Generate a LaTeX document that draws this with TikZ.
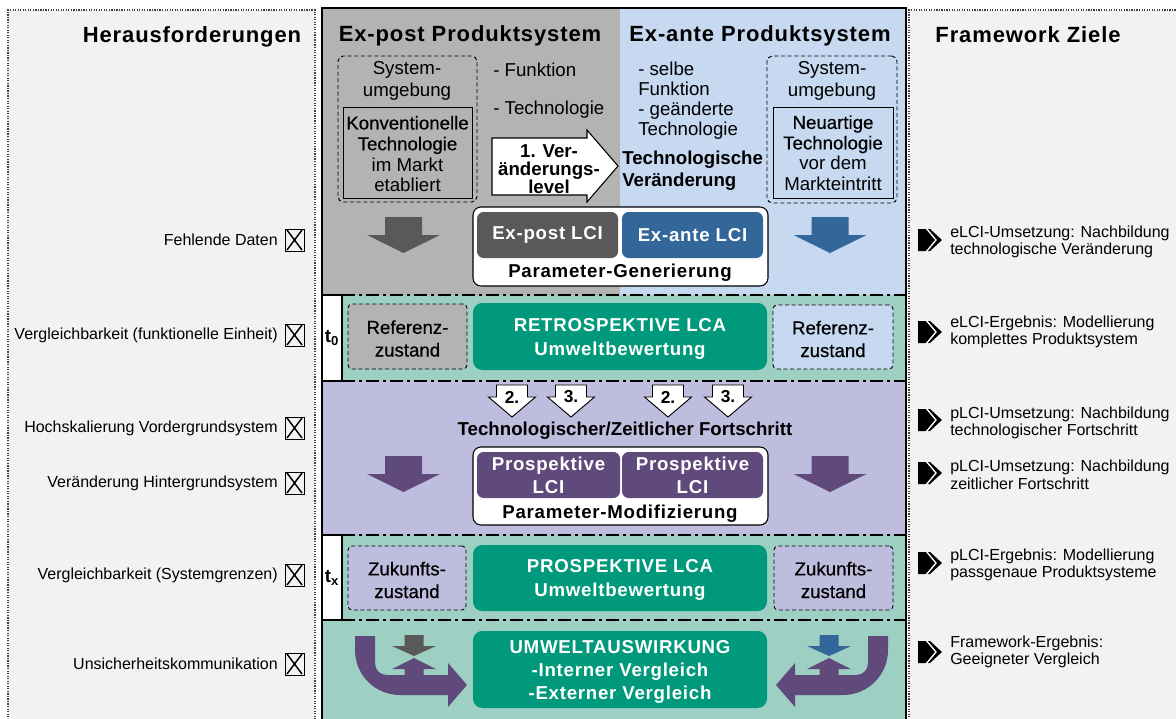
\documentclass[tikz,border=0pt]{standalone}
\usepackage{fontspec}
\setmainfont{Liberation Sans}
\newfontfamily\hdfont[LetterSpace=4]{Liberation Sans}
\newfontfamily\spfont[LetterSpace=4]{Liberation Sans}
\newfontfamily\fbfont[FakeBold=0.5]{Liberation Sans}
\usetikzlibrary{fit}

\definecolor{panelgrey}{HTML}{F2F2F2}
\definecolor{expostgrey}{HTML}{B3B3B3}
\definecolor{exanteblue}{HTML}{C6D9F1}
\definecolor{teallight}{HTML}{9ECFC3}
\definecolor{purplelight}{HTML}{BFBDDE}
\definecolor{tealbox}{HTML}{00997B}
\definecolor{darkgrey}{HTML}{595959}
\definecolor{bluebox}{HTML}{336699}
\definecolor{purplebox}{HTML}{604A7B}

% font size with explicit line distance
\newcommand\fs[2]{\fontsize{#1}{#2}\selectfont}

\tikzset{
  frame/.style={draw=black!75, densely dotted, line width=0.9pt},
  heading/.style={font=\hdfont\bfseries\fs{16.5}{18}, inner sep=0pt, anchor=base},
  lbl/.style={font=\fs{12}{13.2}, anchor=east, inner sep=0pt},
  goal/.style={font=\fs{12}{13.2}, anchor=west, align=left, inner sep=0pt},
  sepline/.style={line width=1.4pt, dash pattern=on 10pt off 3pt on 2pt off 3pt},
  tbox/.style={draw, fill=white, line width=0.8pt, inner sep=0pt},
  envbox/.style={draw, densely dashed, rounded corners=4pt, line width=0.7pt, inner sep=0pt},
  techbox/.style={draw, line width=0.7pt, inner sep=0pt},
  statebox/.style={draw, densely dashed, rounded corners=3pt, line width=0.7pt, inner sep=0pt},
  statetext/.style={font=\fbfont\fs{14}{17}, align=center, inner sep=0pt, yshift=-1.5pt},
  lcabox/.style={fill=tealbox, rounded corners=7pt, inner sep=0pt},
  lcibox/.style={rounded corners=5pt, inner sep=0pt},
  whitebold/.style={text=white, font=\spfont\bfseries\fs{14}{#1}, align=center, inner sep=0pt},
  parbox/.style={draw, fill=white, rounded corners=6pt, line width=0.8pt, inner sep=0pt},
  bigdown/.pic={\fill[#1] (-18.5,0) -- (18.5,0) -- (18.5,18) -- (36.5,18) -- (0,36)
     -- (-36.5,18) -- (-18.5,18) -- cycle;},
  smalldown/.pic={\draw[fill=white, line width=0.7pt] (-15.5,0) -- (15.5,0) -- (15.5,12)
     -- (23.5,12) -- (0,32) -- (-23.5,12) -- (-15.5,12) -- cycle;},
  bend/.pic={
     \fill[purplebox] (355,636) -- (355,650) .. controls (355,675) and (375,695) .. (400,695)
       -- (448,695) -- (448,707) -- (467,685) -- (448,663) -- (448,675) -- (423.5,675)
       -- (423.5,669) -- (436,669) -- (414,658) -- (392,669) -- (404.5,669) -- (404.5,675)
       -- (387,675) .. controls (380,675) and (375,670) .. (375,663) -- (375,636) -- cycle;
     \fill[#1] (404.5,635) -- (423.5,635) -- (423.5,646) -- (436,646) -- (414,656)
       -- (392,646) -- (404.5,646) -- cycle;},
  xmark/.pic={\draw[line width=0.7pt] (-9.5,-11) rectangle (9.5,11);
     \draw[line width=1.1pt] (-7.5,-10) -- (7.5,10) (7.5,-10) -- (-7.5,10);},
  chev/.pic={\fill[black] (-12,-11) -- (0,-11) -- (12,0) -- (0,11) -- (-12,11) -- cycle;
     \draw[white, line width=1pt] (-4,-12) -- (6,0) -- (-4,12);}
}

\begin{document}
\begin{tikzpicture}[x=0.75pt, y=-0.75pt]
\useasboundingbox (0,0) rectangle (1176,718);

% side panels
\fill[panelgrey] (8,10) rectangle (315,730);
\draw[frame] (8,730) -- (8,10) -- (315,10) -- (315,730);
\fill[panelgrey] (909,10) rectangle (1180,730);
\draw[frame] (909,730) -- (909,10) -- (1180,10);

% central bands
\fill[expostgrey] (322,8) rectangle (620,295);
\fill[exanteblue] (620,8) rectangle (906,295);
\fill[teallight] (322,295) rectangle (906,381);
\fill[purplelight] (322,381) rectangle (906,535);
\fill[teallight] (322,535) rectangle (906,730);
\foreach \yy in {295,381,535,620} \draw[sepline] (342,\yy) -- (906,\yy);
\draw[line width=1.2pt] (322,730) -- (322,8) -- (906,8) -- (906,730);

% headings
\node[heading] (hLeft) at (192,42) {Herausforderungen};
\node[heading] (hPost) at (470,41) {Ex-post Produktsystem};
\node[heading] (hAnte) at (760,41) {Ex-ante Produktsystem};
\node[heading] (hGoal) at (1028,42) {Framework Ziele};

% ex-post product system
\node[envbox, fit={(338,56) (477,202)}] (envL) {};
\node[font=\fs{14}{16.5}, align=center] (envLt) at (407,81) {System-\\umgebung};
\node[techbox, fit={(343,107) (472,198)}] (techL) {};
\node[font=\fs{14}{15.6}, align=center] (techLt) at (407.5,154)
  {{\fbfont Konventionelle}\\{\fbfont Technologie}\\im Markt\\etabliert};
\node[font=\fs{14}{16}, anchor=west, inner sep=0pt] (fkt) at (493,70) {- Funktion};
\node[font=\fs{14}{16}, anchor=west, inner sep=0pt] (tec) at (493,110) {- Technologie};

\draw[fill=white, line width=0.8pt] (492,138) -- (587,138) -- (587,130) -- (618,166)
  -- (587,202) -- (587,195) -- (492,195) -- cycle;
\node[font={\bfseries\fs{14}{13.5}\lineskiplimit=-6pt}, align=center] (lvl1) at (549,169)
  {1. Ver-\\änderungs-\\level};

% ex-ante product system
\node[font=\fs{14}{15}, align=left, anchor=west, inner sep=0pt] (chg) at (638,101)
  {- selbe\\Funktion\\- geänderte\\Technologie};
\node[font=\bfseries\fs{14}{16.5}, align=left, anchor=west, inner sep=0pt] (tvc) at (622,171)
  {Technologische\\Veränderung};
\node[envbox, fit={(767,56) (897,203)}] (envR) {};
\node[font=\fs{14}{16.5}, align=center] (envRt) at (832,81) {System-\\umgebung};
\node[techbox, fit={(773,107) (893,198)}] (techR) {};
\node[font=\fs{14}{15.4}, align=center] (techRt) at (833,153)
  {{\fbfont Neuartige}\\{\fbfont Technologie}\\vor dem\\Markteintritt};

\pic at (403.5,217) {bigdown=darkgrey};
\pic at (830,217) {bigdown=bluebox};

\node[parbox, fit={(473,207) (768,286)}] (pgen) {};
\node[lcibox, fill=darkgrey, fit={(477,212) (618,258)}] (lciPost) {};
\node[whitebold=16] at (lciPost.center) {Ex-post LCI};
\node[lcibox, fill=bluebox, fit={(622,212) (763,258)}] (lciAnte) {};
\node[whitebold=16] at (lciAnte.center) {Ex-ante LCI};
\node[font=\spfont\bfseries\fs{14}{16}, anchor=base, inner sep=0pt] (pgent) at (620,277)
  {Parameter-Generierung};

% reference state t0
\node[tbox, fit={(322,295) (342,381)}] (t0) {};
\node[font=\bfseries\fs{14}{16}, inner sep=0pt] at (t0.center) {t\textsubscript{0}};
\node[statebox, fill=expostgrey, fit={(348,304) (467,369)}] (refL) {};
\node[statetext] at (refL.center) {Referenz-\\zustand};
\node[lcabox, fit={(473,303) (767,370)}] (retro) {};
\node[whitebold=18, yshift=-2pt] at (retro.center) {RETROSPEKTIVE LCA\\Umweltbewertung};
\node[statebox, fill=exanteblue, fit={(773,305) (893,369)}] (refR) {};
\node[statetext] at (refR.center) {Referenz-\\zustand};

% progress steps
\foreach \xx/\tt/\nm in {512/2./a2,571/3./a3,668/2./b2,728/3./b3}{
  \pic at (\xx,385) {smalldown};
  \node[font=\bfseries\fs{13}{13}, inner sep=0pt] (st\nm) at (\xx,397) {\tt};
}
\node[font=\bfseries\fs{14}{16}, inner sep=0pt, anchor=base] (prog) at (625,435)
  {Technologischer/Zeitlicher Fortschritt};
\pic at (403.5,456) {bigdown=purplebox};
\pic at (830,456) {bigdown=purplebox};
\node[parbox, fit={(473,447) (768,525)}] (pmod) {};
\node[lcibox, fill=purplebox, fit={(477,452) (620,498)}] (lciP1) {};
\node[whitebold=17] at (lciP1.center) {Prospektive\\LCI};
\node[lcibox, fill=purplebox, fit={(622,452) (763,498)}] (lciP2) {};
\node[whitebold=17] at (lciP2.center) {Prospektive\\LCI};
\node[font=\spfont\bfseries\fs{14}{16}, anchor=base, inner sep=0pt] (pmodt) at (620,518)
  {Parameter-Modifizierung};

% future state tx
\node[tbox, fit={(322,535) (342,620)}] (tx) {};
\node[font=\bfseries\fs{14}{16}, inner sep=0pt] at (tx.center) {t\textsubscript{x}};
\node[statebox, fill=purplelight, fit={(348,546) (466,610)}] (futL) {};
\node[statetext] at (futL.center) {Zukunfts-\\zustand};
\node[lcabox, fit={(473,545) (767,611)}] (prosp) {};
\node[whitebold=18, yshift=-1.5pt] at (prosp.center) {PROSPEKTIVE LCA\\Umweltbewertung};
\node[statebox, fill=purplelight, fit={(774,546) (893,610)}] (futR) {};
\node[statetext] at (futR.center) {Zukunfts-\\zustand};

% impact assessment
\node[lcabox, fit={(473,631) (767,708)}] (impact) {};
\node[whitebold=17.4, yshift=-2pt] at (impact.center)
  {UMWELTAUSWIRKUNG\\-Interner Vergleich\\-Externer Vergleich};
\pic at (0,0) {bend=darkgrey};
\pic[xscale=-1] at (1243,0) {bend=bluebox};

% challenges
\foreach \yy/\txt/\nm in {240/Fehlende Daten/c1,
    335/Vergleichbarkeit (funktionelle Einheit)/c2,
    428/Hochskalierung Vordergrundsystem/c3,
    483/Veränderung Hintergrundsystem/c4,
    575/Vergleichbarkeit (Systemgrenzen)/c5,
    664/Unsicherheitskommunikation/c6}{
  \node[lbl] (\nm) at (278,\yy) {\txt};
  \pic at (294.5,\yy) {xmark};
}

% framework goals
\node[goal] (g1) at (950,242) {eLCI-Umsetzung: Nachbildung\\technologische Veränderung};
\node[goal] (g2) at (950,332) {eLCI-Ergebnis: Modellierung\\komplettes Produktsystem};
\node[goal] (g3) at (950,423) {pLCI-Umsetzung: Nachbildung\\technologischer Fortschritt};
\node[goal] (g4) at (950,475) {pLCI-Umsetzung: Nachbildung\\zeitlicher Fortschritt};
\node[goal] (g5) at (950,565) {pLCI-Ergebnis: Modellierung\\passgenaue Produktsysteme};
\node[goal] (g6) at (950,652) {Framework-Ergebnis:\\Geeigneter Vergleich};
\foreach \yy in {240,332,420,473,563,652} \pic at (930,\yy) {chev};
\end{tikzpicture}
\end{document}
